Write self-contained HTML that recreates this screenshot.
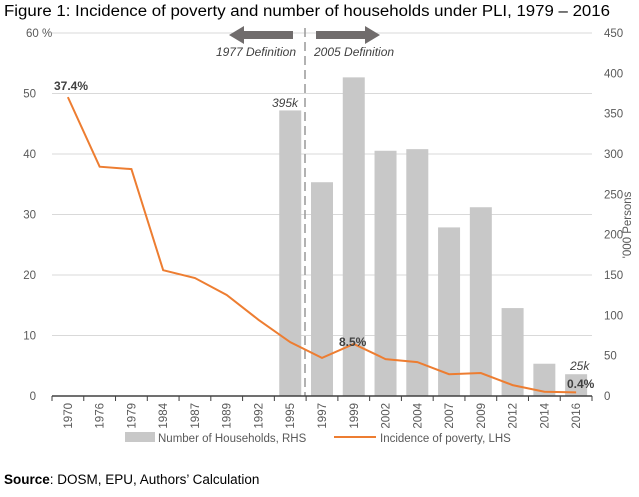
<!DOCTYPE html>
<html><head><meta charset="utf-8"><style>
body{margin:0;background:#fff;width:639px;height:492px;overflow:hidden;font-family:"Liberation Sans",sans-serif}
</style></head><body>
<svg id="c" width="639" height="492" xmlns="http://www.w3.org/2000/svg"></svg>
<script>
const categories=["1970","1976","1979","1984","1987","1989","1992","1995","1997","1999","2002","2004","2007","2009","2012","2014","2016"];
const households=[null,null,null,null,null,null,null,354,265,395,304,306,209,234,109,40,27];
const poverty=[49.4,37.9,37.5,20.8,19.5,16.7,12.6,8.9,6.3,8.6,6.1,5.6,3.6,3.8,1.8,0.7,0.6];
const leftTicks=[0,10,20,30,40,50,60];
const rightTicks=[0,50,100,150,200,250,300,350,400,450];
const NS="http://www.w3.org/2000/svg";
const svg=document.getElementById('c');
const L=52,R=592,Y0=396,Y1=33;
const bw=(R-L)/categories.length;
const xc=i=>L+bw*(i+0.5);
const yl=v=>Y0-(v/60)*(Y0-Y1);
const yr=v=>Y0-(v/450)*(Y0-Y1);
function mk(t,a,txt){const e=document.createElementNS(NS,t);for(const k in a)e.setAttribute(k,a[k]);if(txt!=null)e.textContent=txt;svg.appendChild(e);return e;}
let e;
e=mk('text',{x:4,y:16,'font-size':15.5,fill:'#000',textLength:606,lengthAdjust:'spacingAndGlyphs'},'Figure 1: Incidence of poverty and number of households under PLI, 1979 – 2016');


leftTicks.forEach(v=>{
 if(v>0){e=mk('line',{x1:L,x2:R,y1:yl(v),y2:yl(v),stroke:'#d9d9d9','stroke-width':1});
 
 }
 e=mk('text',{x:v==60?26:36,y:yl(v)+4,'font-size':11.5,fill:'#595959','text-anchor':v==60?'start':'end'},v==60?'60 %':v);
 
 
});
rightTicks.forEach(v=>{
 e=mk('text',{x:604,y:yr(v)+4,'font-size':11.5,fill:'#595959'},v);
 
 
});
e=mk('text',{x:0,y:0,'font-size':11.5,fill:'#595959',transform:'translate(631,225) rotate(-90)','text-anchor':'middle'},"'000 Persons");


households.forEach((v,i)=>{
 if(v==null)return;
 e=mk('rect',{x:xc(i)-11,y:yr(v),width:22,height:Y0-yr(v),fill:'#c8c8c8'});
 
 
});
e=mk('line',{x1:305,x2:305,y1:28,y2:396,stroke:'#999','stroke-width':1.5,'stroke-dasharray':'9,5'});


e=mk('polygon',{points:'293,31 244,31 244,26 229,35 244,44 244,39 293,39',fill:'#706c6c'});


e=mk('polygon',{points:'316,31 365,31 365,26 380,35 365,44 365,39 316,39',fill:'#706c6c'});


e=mk('text',{x:296,y:56,'font-size':12,'font-style':'italic',fill:'#404040','text-anchor':'end'},'1977 Definition');


e=mk('text',{x:314,y:56,'font-size':12,'font-style':'italic',fill:'#404040'},'2005 Definition');


e=mk('polyline',{points:poverty.map((v,i)=>xc(i)+','+yl(v)).join(' '),fill:'none',stroke:'#ed7d31','stroke-width':2});


e=mk('line',{x1:L,x2:R,y1:Y0,y2:Y0,stroke:'#404040','stroke-width':1.5});


for(let i=0;i<=categories.length;i++){
 e=mk('line',{x1:L+bw*i,x2:L+bw*i,y1:Y0,y2:Y0+5,stroke:'#404040'});
 
 
}
categories.forEach((c,i)=>{
 e=mk('text',{x:0,y:0,'font-size':11.5,fill:'#595959',transform:`translate(${xc(i)+4},${Y0+7}) rotate(-90)`,'text-anchor':'end'},c);
 
 
});
e=mk('text',{x:54,y:90,'font-size':12,'font-weight':'bold',fill:'#404040'},'37.4%');


e=mk('text',{x:339,y:346,'font-size':12,'font-weight':'bold',fill:'#404040'},'8.5%');


e=mk('text',{x:567,y:388,'font-size':12,'font-weight':'bold',fill:'#404040'},'0.4%');


e=mk('text',{x:272,y:107,'font-size':12,'font-style':'italic',fill:'#404040'},'395k');


e=mk('text',{x:570,y:370,'font-size':12,'font-style':'italic',fill:'#404040'},'25k');


e=mk('rect',{x:125,y:432,width:30,height:10,fill:'#c8c8c8'});


e=mk('text',{x:158,y:442,'font-size':11.5,fill:'#595959'},'Number of Households, RHS');


e=mk('line',{x1:334,x2:376,y1:437,y2:437,stroke:'#ed7d31','stroke-width':2});


e=mk('text',{x:380,y:442,'font-size':11.5,fill:'#595959'},'Incidence of poverty, LHS');


e=mk('text',{x:4,y:484,'font-size':13.5,fill:'#000'},'');
e.innerHTML='<tspan font-weight="bold">Source</tspan>: DOSM, EPU, Authors’ Calculation';


</script>
</body></html>
